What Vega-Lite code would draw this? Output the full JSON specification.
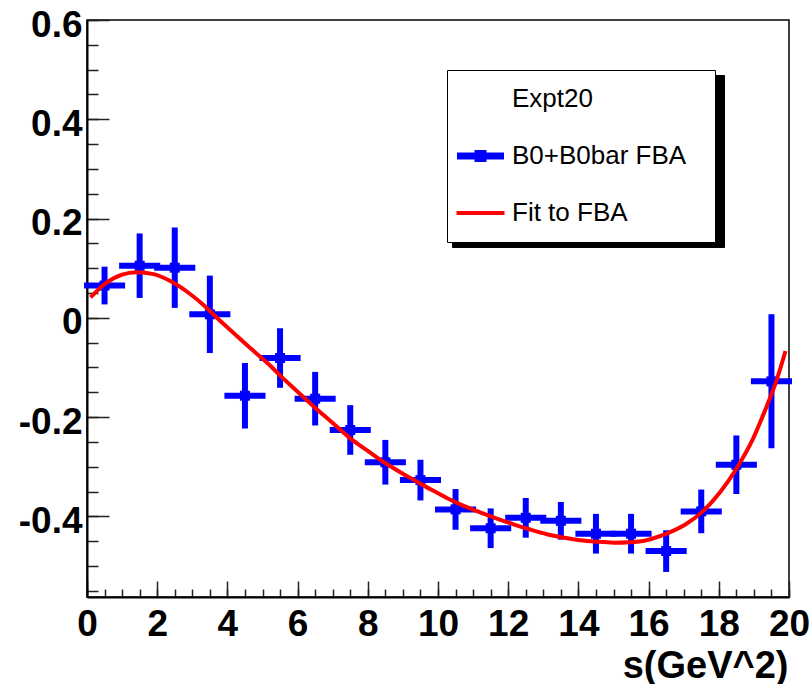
{
  "$schema": "https://vega.github.io/schema/vega-lite/v6.json",
  "width": 702,
  "height": 577,
  "autosize": {"type": "none"},
  "padding": {"left": 87, "top": 20, "right": 23, "bottom": 87},
  "background": "white",
  "config": {
    "view": {"stroke": "black", "strokeWidth": 1.5},
    "font": "Liberation Sans"
  },
  "datasets": {
    "fba": [
      {"s": 0.5, "a": 0.065, "da": 0.038, "ds": 0.5},
      {"s": 1.5, "a": 0.105, "da": 0.065, "ds": 0.5},
      {"s": 2.5, "a": 0.101, "da": 0.081, "ds": 0.5},
      {"s": 3.5, "a": 0.007, "da": 0.078, "ds": 0.5},
      {"s": 4.5, "a": -0.157, "da": 0.066, "ds": 0.5},
      {"s": 5.5, "a": -0.081, "da": 0.060, "ds": 0.5},
      {"s": 6.5, "a": -0.163, "da": 0.054, "ds": 0.5},
      {"s": 7.5, "a": -0.226, "da": 0.050, "ds": 0.5},
      {"s": 8.5, "a": -0.291, "da": 0.045, "ds": 0.5},
      {"s": 9.5, "a": -0.327, "da": 0.041, "ds": 0.5},
      {"s": 10.5, "a": -0.386, "da": 0.041, "ds": 0.5},
      {"s": 11.5, "a": -0.424, "da": 0.040, "ds": 0.5},
      {"s": 12.5, "a": -0.403, "da": 0.040, "ds": 0.5},
      {"s": 13.5, "a": -0.409, "da": 0.038, "ds": 0.5},
      {"s": 14.5, "a": -0.435, "da": 0.040, "ds": 0.5},
      {"s": 15.5, "a": -0.435, "da": 0.040, "ds": 0.5},
      {"s": 16.5, "a": -0.470, "da": 0.042, "ds": 0.5},
      {"s": 17.5, "a": -0.390, "da": 0.044, "ds": 0.5},
      {"s": 18.5, "a": -0.296, "da": 0.059, "ds": 0.5},
      {"s": 19.5, "a": -0.128, "da": 0.135, "ds": 0.5}
    ],
    "fit": [
      {"s": 0.1, "f": 0.041},
      {"s": 0.5, "f": 0.068},
      {"s": 1.0, "f": 0.087},
      {"s": 1.4, "f": 0.092},
      {"s": 1.9, "f": 0.088},
      {"s": 2.4, "f": 0.073},
      {"s": 2.9, "f": 0.050},
      {"s": 3.35, "f": 0.024},
      {"s": 3.7, "f": 0.0},
      {"s": 4.2, "f": -0.032},
      {"s": 4.7, "f": -0.064},
      {"s": 5.2, "f": -0.095},
      {"s": 5.5, "f": -0.116},
      {"s": 6.0, "f": -0.149},
      {"s": 6.45, "f": -0.178},
      {"s": 7.0, "f": -0.212},
      {"s": 7.5, "f": -0.243},
      {"s": 8.0, "f": -0.268},
      {"s": 8.44, "f": -0.290},
      {"s": 9.0, "f": -0.314},
      {"s": 9.3, "f": -0.326},
      {"s": 9.8, "f": -0.346},
      {"s": 10.25, "f": -0.363},
      {"s": 10.7, "f": -0.378},
      {"s": 11.2, "f": -0.392},
      {"s": 11.7, "f": -0.405},
      {"s": 12.15, "f": -0.416},
      {"s": 12.6, "f": -0.426},
      {"s": 13.1, "f": -0.436},
      {"s": 13.6, "f": -0.443},
      {"s": 14.05, "f": -0.448},
      {"s": 14.5, "f": -0.451},
      {"s": 15.0, "f": -0.453},
      {"s": 15.47, "f": -0.452},
      {"s": 15.94, "f": -0.448},
      {"s": 16.51, "f": -0.435},
      {"s": 17.08, "f": -0.415},
      {"s": 17.56, "f": -0.389},
      {"s": 18.03, "f": -0.352},
      {"s": 18.51, "f": -0.303},
      {"s": 18.98, "f": -0.243},
      {"s": 19.36, "f": -0.179},
      {"s": 19.65, "f": -0.125},
      {"s": 19.9, "f": -0.067}
    ]
  },
  "resolve": {"axis": {"x": "independent", "y": "independent"}},
  "layer": [
    {
      "data": {"values": []},
      "mark": {"type": "point"},
      "encoding": {
        "shape": {
          "field": "entry",
          "type": "nominal",
          "scale": {"domain": ["B0+B0bar FBA", "Expt20", "Fit to FBA"], "range": ["square", "square", "square"]},
          "legend": {
            "orient": "none",
            "legendX": 365,
            "legendY": 55,
            "title": null,
            "fillColor": "black",
            "strokeColor": "black",
            "padding": 5,
            "rowPadding": 9,
            "symbolSize": 2304,
            "symbolOffset": 210,
            "symbolStrokeWidth": 0,
            "symbolOpacity": 0,
            "labelExpr": "''",
            "labelFontSize": 10
          }
        }
      }
    },
    {
      "data": {"values": []},
      "mark": {"type": "point"},
      "encoding": {
        "color": {
          "field": "series",
          "type": "nominal",
          "scale": {"domain": ["Expt20", "B0+B0bar FBA", "Fit to FBA"], "range": ["#0000ff", "#0000ff", "#ff0000"]},
          "legend": {
            "orient": "none",
            "legendX": 360,
            "legendY": 50,
            "title": null,
            "fillColor": "white",
            "strokeColor": "black",
            "padding": 5,
            "rowPadding": 9,
            "symbolSize": 2304,
            "symbolOffset": 210,
            "symbolStrokeWidth": 0,
            "symbolOpacity": 0,
            "labelOffset": -198,
            "labelFont": "Liberation Sans",
            "labelFontSize": 26,
            "labelColor": "black",
            "labelLimit": 400
          }
        }
      }
    },
    {
      "data": {"values": []},
      "mark": {"type": "point", "filled": true, "opacity": 1},
      "encoding": {
        "fill": {
          "field": "points",
          "type": "nominal",
          "scale": {"domain": ["B0+B0bar FBA"], "range": ["#0000ff"]},
          "legend": {
            "orient": "none",
            "legendX": 369.5,
            "legendY": 112,
            "title": null,
            "padding": 0,
            "symbolType": "M-0.98,-0.146L0.98,-0.146L0.98,0.146L-0.98,0.146Z M-0.25,-0.25L0.25,-0.25L0.25,0.25L-0.25,0.25Z",
            "symbolSize": 2304,
            "symbolStrokeWidth": 0,
            "symbolOpacity": 1,
            "labelExpr": "''",
            "labelFontSize": 10
          }
        }
      }
    },
    {
      "data": {"values": []},
      "mark": {"type": "point", "opacity": 1},
      "encoding": {
        "stroke": {
          "field": "curve",
          "type": "nominal",
          "scale": {"domain": ["Fit to FBA"], "range": ["#ff0000"]},
          "legend": {
            "orient": "none",
            "legendX": 367.5,
            "legendY": 167,
            "title": null,
            "padding": 0,
            "symbolType": "stroke",
            "symbolSize": 2304,
            "symbolStrokeWidth": 4,
            "symbolOpacity": 1,
            "labelExpr": "''",
            "labelFontSize": 10
          }
        }
      }
    },
    {
      "mark": {"type": "rule", "color": "#555555", "strokeWidth": 1.5},
      "encoding": {
        "y": {"datum": 0, "type": "quantitative", "axis": null}
      }
    },
    {
      "data": {"name": "fba"},
      "mark": {"type": "errorbar", "color": "#0000ff", "thickness": 6},
      "encoding": {
        "x": {"field": "s", "type": "quantitative", "axis": null},
        "y": {"field": "a", "type": "quantitative", "axis": null},
        "yError": {"field": "da"}
      }
    },
    {
      "data": {"name": "fba"},
      "mark": {"type": "errorbar", "color": "#0000ff", "thickness": 6, "rule": {"strokeCap": "square"}},
      "encoding": {
        "y": {"field": "a", "type": "quantitative", "axis": null},
        "x": {"field": "s", "type": "quantitative", "axis": null},
        "xError": {"field": "ds"}
      }
    },
    {
      "data": {"name": "fba"},
      "mark": {"type": "square", "color": "#0000ff", "size": 100, "opacity": 1},
      "encoding": {
        "x": {
          "field": "s",
          "type": "quantitative",
          "axis": {
            "orient": "bottom",
            "values": [0, 0.5, 1, 1.5, 2, 2.5, 3, 3.5, 4, 4.5, 5, 5.5, 6, 6.5, 7, 7.5, 8, 8.5, 9, 9.5, 10, 10.5, 11, 11.5, 12, 12.5, 13, 13.5, 14, 14.5, 15, 15.5, 16, 16.5, 17, 17.5, 18, 18.5, 19, 19.5, 20],
            "tickSize": -8,
            "tickWidth": 1.5,
            "tickColor": "#222222",
            "labels": false,
            "domain": false,
            "grid": false,
            "title": null
          }
        },
        "y": {
          "field": "a",
          "type": "quantitative",
          "axis": {
            "orient": "left",
            "values": [-0.55, -0.5, -0.45, -0.4, -0.35, -0.3, -0.25, -0.2, -0.15, -0.1, -0.05, 0, 0.05, 0.1, 0.15, 0.2, 0.25, 0.3, 0.35, 0.4, 0.45, 0.5, 0.55, 0.6],
            "tickSize": -11,
            "tickWidth": 1.5,
            "tickColor": "#222222",
            "labels": false,
            "domain": false,
            "grid": false,
            "title": null
          }
        }
      }
    },
    {
      "data": {"name": "fit"},
      "mark": {"type": "line", "color": "#ff0000", "strokeWidth": 4, "interpolate": "monotone"},
      "encoding": {
        "x": {
          "field": "s",
          "type": "quantitative",
          "scale": {"domain": [0, 20], "nice": false, "zero": false},
          "axis": {
            "orient": "bottom",
            "values": [0, 2, 4, 6, 8, 10, 12, 14, 16, 18, 20],
            "tickSize": -16,
            "tickWidth": 1.5,
            "tickColor": "#222222",
            "domain": true,
            "domainColor": "black",
            "domainWidth": 2,
            "grid": false,
            "labelFont": "Liberation Sans",
            "labelFontWeight": "bold",
            "labelFontSize": 37,
            "labelColor": "black",
            "labelPadding": 25,
            "labelFlush": false,
            "labelOverlap": false,
            "labelBound": false,
            "title": "s(GeV^2)",
            "titleFont": "Liberation Sans",
            "titleFontWeight": "bold",
            "titleFontSize": 38,
            "titleColor": "black",
            "titleAlign": "right",
            "titleAnchor": "end",
            "titleBaseline": "alphabetic",
            "titleX": 701,
            "titleY": 80
          }
        },
        "y": {
          "field": "f",
          "type": "quantitative",
          "scale": {"domain": [-0.5625, 0.6], "nice": false, "zero": false},
          "axis": {
            "orient": "left",
            "values": [-0.4, -0.2, 0, 0.2, 0.4, 0.6],
            "tickSize": -22,
            "tickWidth": 1.5,
            "tickColor": "#222222",
            "domain": true,
            "domainColor": "black",
            "domainWidth": 2,
            "grid": false,
            "labelFont": "Liberation Sans",
            "labelFontWeight": "bold",
            "labelFontSize": 37,
            "labelColor": "black",
            "labelPadding": 27,
            "labelOffset": 5,
            "labelBaseline": "middle",
            "labelFlush": false,
            "labelOverlap": false,
            "labelBound": false,
            "labelExpr": "'' + datum.value",
            "title": null
          }
        }
      }
    }
  ]
}
